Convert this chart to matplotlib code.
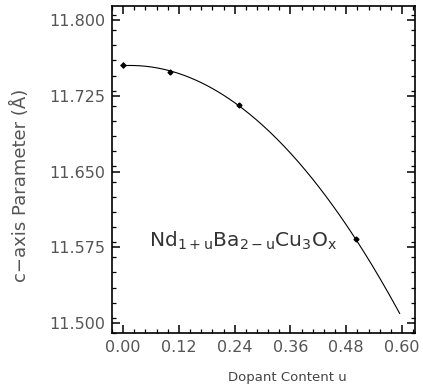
import numpy as np
import matplotlib.pyplot as plt
from matplotlib.ticker import MultipleLocator

# measured lattice parameter vs dopant content
u = [0.00, 0.10, 0.25, 0.50]
c_axis = [11.7554, 11.7488, 11.7155, 11.5832]
u_err = [0.006, 0.0, 0.0, 0.0]
c_err = [0.003, 0.002, 0.002, 0.002]

x_ticks = [0.00, 0.12, 0.24, 0.36, 0.48, 0.60]
y_ticks = [11.500, 11.575, 11.650, 11.725, 11.800]

plt.rcParams['font.family'] = ['DejaVu Sans']
plt.rcParams['mathtext.default'] = 'regular'

fig = plt.figure(figsize=(4.23, 3.90), dpi=100)
ax = fig.add_axes([112 / 423, 1 - 333 / 390, 303 / 423, 327 / 390])

# quadratic fit through the points, drawn to u = 0.595
coef = np.polyfit(u, c_axis, 2)
u_fit = np.linspace(0.0, 0.595, 200)
ax.plot(u_fit, np.polyval(coef, u_fit), color='black', lw=0.8)

ax.errorbar(u, c_axis, xerr=u_err, yerr=c_err, fmt='D', ms=2.5,
            color='black', ecolor='black', elinewidth=0.8, capsize=0)

ax.set_xlim(-0.024, 0.628)
ax.set_ylim(11.490, 11.814)
ax.set_xticks(x_ticks)
ax.set_yticks(y_ticks)
ax.set_xticklabels([f'{v:.2f}' for v in x_ticks])
ax.set_yticklabels([f'{v:.3f}' for v in y_ticks])
ax.xaxis.set_minor_locator(MultipleLocator(0.024))
ax.yaxis.set_minor_locator(MultipleLocator(0.015))
ax.tick_params(which='both', direction='in', top=True, right=True,
               labelsize=11.5, labelcolor='#555555', pad=5)
ax.tick_params(which='major', length=6, width=1.1)
ax.tick_params(which='minor', length=3, width=0.9)
for sp in ax.spines.values():
    sp.set_linewidth(1.2)

ax.set_xlabel('Dopant Content u', fontsize=9.5, color='#444444')
ax.xaxis.set_label_coords(0.58, -0.115)
ax.set_ylabel('c\u2212axis Parameter (\u00c5)', fontsize=13, color='#555555')
ax.yaxis.set_label_coords(-0.27, 0.45)

ax.text(0.258, 11.581, r'Nd$_{1+u}$Ba$_{2-u}$Cu$_3$O$_x$', fontsize=14.5,
        ha='center', va='center', color='#333333')

fig.savefig('out.png', dpi=100)
